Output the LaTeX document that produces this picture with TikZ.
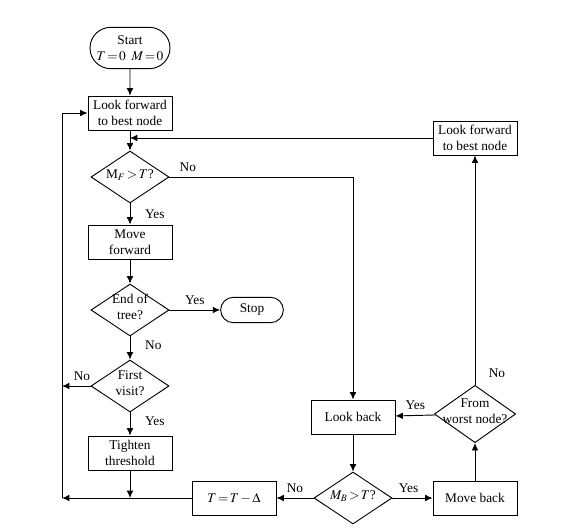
\documentclass[tikz,border=0pt]{standalone}
\usepackage{mathptmx}
\usepackage{fontspec}
\setmainfont{Liberation Serif}
\usetikzlibrary{arrows.meta,positioning,shapes.geometric,shapes.misc,calc}
\tikzstyle{bS}=[rectangle,draw,line width=0.7pt,minimum width=63pt,minimum height=25.5pt,inner sep=0pt,align=center]
\tikzstyle{tS}=[rounded rectangle,draw,line width=0.7pt,inner sep=0pt,align=center]
\tikzstyle{dS}=[diamond,draw,line width=0.7pt,minimum width=58.5pt,minimum height=39pt,inner sep=0pt]
\tikzstyle{lS}=[inner sep=1pt]
\tikzstyle{eA}=[draw,line width=0.7pt,-{Latex[length=5.5pt,width=5pt]}]
% text of a decision box, kept out of the shape size
\newcommand{\dtxt}[1]{\makebox[0pt]{\raisebox{-2.5pt}{\smash{\begin{tabular}{@{}c@{}}#1\end{tabular}}}}}

\begin{document}
\begin{tikzpicture}[x=0.75pt,y=-0.75pt]
                \useasboundingbox (0,0) rectangle (562,532);
                \draw (130,48) node[tS,minimum width=60pt,minimum height=31pt] (sta) {Start\\$T\,{=}\,0\;\;M\,{=}\,0$};
                \draw (130,113) node[bS] (fwd) {Look forward\\to best node};
                \draw (130,177) node[dS] (mf) {\dtxt{M$_F\,{>}\,T$?}};
                \draw (130,242) node[bS] (mov) {Move\\forward};
                \draw (130,310) node[dS] (eot) {\dtxt{End of\\tree?}};
                \draw (252,310) node[tS,minimum width=47pt,minimum height=19pt] (stp) {Stop};
                \draw (130,386) node[dS] (fst) {\dtxt{First\\visit?}};
                \draw (130,453) node[bS] (tig) {Tighten\\threshold};
                \draw (234,498) node[bS] (dec) {$T\,{=}\,T\,{-}\,\Delta$};
                \draw (353,417) node[bS] (bck) {Look back};
                \draw (353,498) node[dS] (mb) {\dtxt{$M_B\,{>}\,T$?}};
                \draw (475,498) node[bS] (mbk) {Move back};
                \draw (475,414) node[dS,minimum width=61pt,minimum height=43pt] (wst) {\dtxt{From\\worst node?}};
                \draw (475,138) node[bS] (fwd2) {Look forward\\to best node};
                \coordinate (j1) at (130,498);
                \coordinate (j2) at (130,138);
                \coordinate (lc) at (62,498);
                \coordinate (lf) at (62,386);
                \path
                    (sta) edge[eA] (fwd)
                    (fwd) edge[eA] (mf)
                    (mf) edge[eA] node[lS,right=10pt]{Yes} (mov)
                    (mov) edge[eA] (eot)
                    (eot) edge[eA] node[lS,above=3pt]{Yes} (stp)
                    (eot) edge[eA] node[lS,pos=0.4,right=10pt]{No} (fst)
                    (fst) edge[eA] node[lS,pos=0.3,above=3pt]{No} (lf)
                    (fst) edge[eA] node[lS,pos=0.4,right=10pt]{Yes} (tig)
                    (tig) edge[eA] (j1)
                    (dec) edge[eA] (lc)
                    (bck) edge[eA] (mb)
                    (mb) edge[eA] node[lS,above=3pt]{No} (dec)
                    (mb) edge[eA] node[lS,pos=0.4,above=3pt]{Yes} (mbk)
                    (mbk) edge[eA] (wst)
                    (wst) edge[eA] node[lS,above=3pt]{Yes} (bck)
                    (wst) edge[eA] node[lS,pos=0.05,right=9pt]{No} (fwd2)
                    (fwd2) edge[eA] (j2)
                ;
                \draw[eA] (lc) |- (fwd);
                \draw[eA] (mf.east) -| node[lS,pos=0.05,above=3pt]{No} (bck.north);
        \end{tikzpicture}
\end{document}
